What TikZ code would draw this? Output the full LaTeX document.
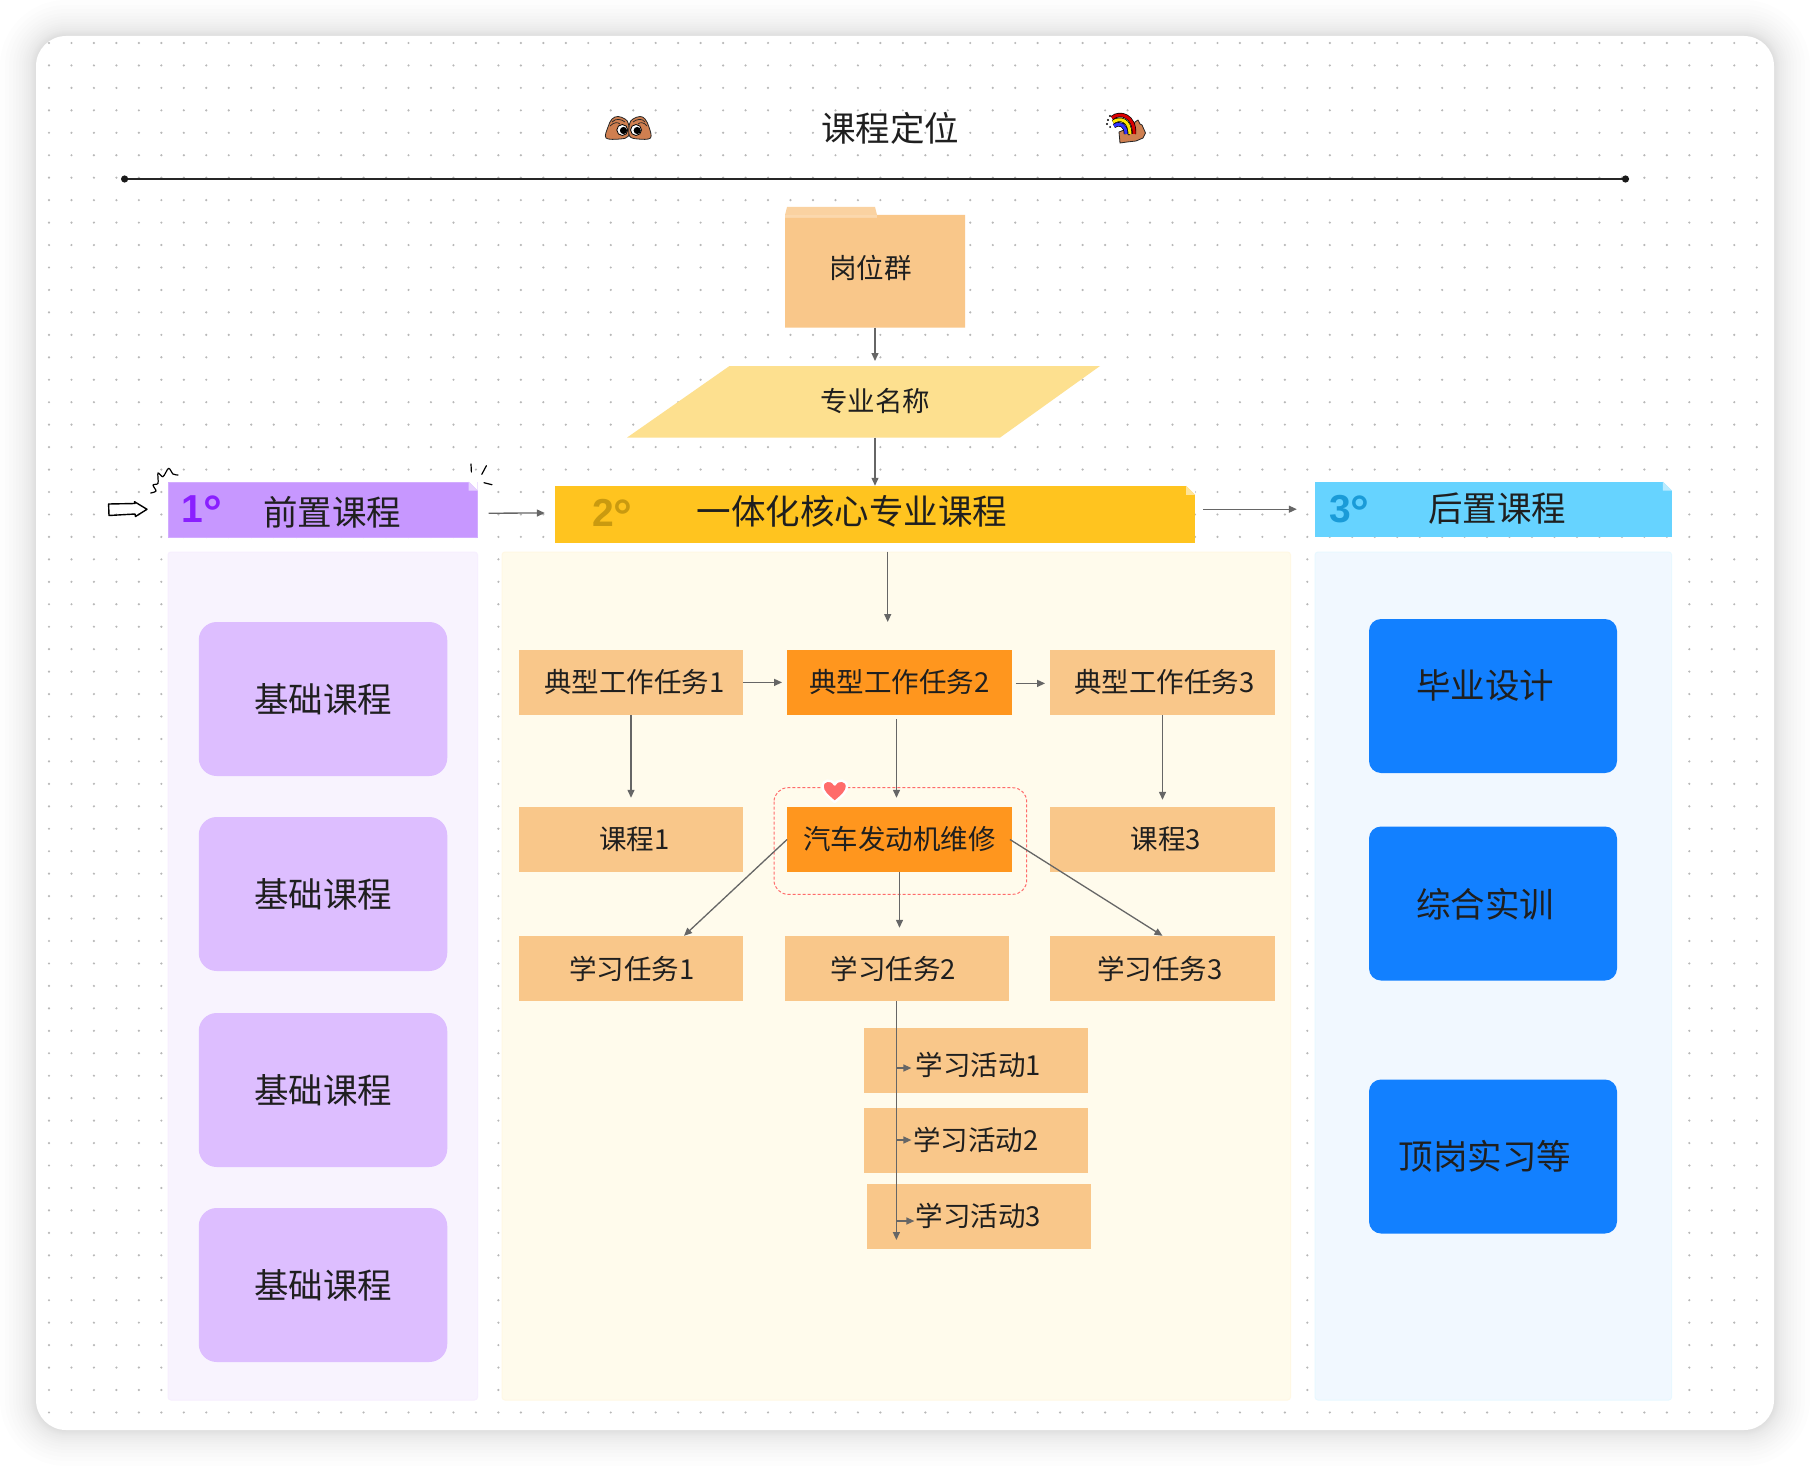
\documentclass[tikz,border=0pt]{standalone}
\usepackage{fontspec}
\setmainfont{Noto Sans CJK SC}
\newfontfamily\numfont{Liberation Sans}
\usepackage{xcolor}
\usetikzlibrary{arrows.meta, positioning}
\definecolor{taskc}{HTML}{F9C78A}
\definecolor{hotc}{HTML}{FF961E}
\definecolor{skinc}{HTML}{CF7F50}
\definecolor{parac}{HTML}{FDE08F}
\definecolor{hdrac}{HTML}{C797FF}
\definecolor{hdrbc}{HTML}{FFC41F}
\definecolor{hdrcc}{HTML}{66D3FF}
\definecolor{numac}{HTML}{8A1FFF}
\definecolor{numbc}{HTML}{C99A10}
\definecolor{numcc}{HTML}{1A9BD8}
\definecolor{panac}{HTML}{F8F3FE}
\definecolor{panbc}{HTML}{FFFBEC}
\definecolor{pancc}{HTML}{F1F8FF}
\definecolor{pboxc}{HTML}{DDBEFF}
\definecolor{bboxc}{HTML}{1280FF}
\definecolor{heartc}{HTML}{FF6B6B}
\newcommand{\foldc}[2]{%
  \fill[white] (#1.north east) -- ++(-9,0) -- ++(9,9) -- cycle;
  \fill[#2] (#1.north east) ++(-9,0) -- ++(9,9) -- ++(-9,0) -- cycle;}
\newcommand{\bigdeg}{{\fontsize{47}{50}\selectfont\raisebox{-5.5pt}{°}}}
\tikzset{
  txtc/.style   = {text=black!88},
  bigt/.style   = {txtc, font=\fontsize{34.5}{40}\selectfont, inner sep=0pt},
  smallt/.style = {txtc, font=\fontsize{27.5}{32}\selectfont, inner sep=0pt},
  task/.style   = {rectangle, fill=taskc, txtc, minimum width=224.5pt, minimum height=65pt,
                   inner sep=0pt, font=\fontsize{27.5}{32}\selectfont},
  hot/.style    = {task, fill=hotc},
  hdr/.style    = {rectangle, minimum width=309.5pt, minimum height=55pt, inner sep=0pt},
  num/.style    = {font=\numfont\bfseries\fontsize{39}{44}\selectfont, inner sep=0pt},
  panel/.style  = {rectangle, rounded corners=3pt, line width=1pt, inner sep=0pt},
  pbox/.style   = {rectangle, rounded corners=18pt, fill=pboxc,
                   minimum width=248.5pt, minimum height=154pt, inner sep=0pt,
                   txtc, font=\fontsize{34.5}{40}\selectfont},
  bbox/.style   = {rectangle, rounded corners=12pt, fill=bboxc,
                   minimum width=248pt, minimum height=154pt, inner sep=0pt},
  fl/.style     = {-{Triangle[length=8pt,width=7pt]}, line width=1.3pt, black!60},
  sk/.style     = {black, line width=1.4pt, line cap=round, line join=round},
  ic/.style     = {draw=black!85, line width=.8pt, fill=skinc, line join=round},
  dotrow/.style = {black!28, line width=2.4pt, line cap=round, dash pattern=on 0pt off 22.47pt},
}
\begin{document}
\begin{tikzpicture}[x=1pt,y=-1pt]
  \useasboundingbox (0,0) rectangle (1810,1466);
  \foreach \s in {36,31,27,23,20,17,14,12,10,8,6,5,4,3,2,1,0} {
    \pgfmathsetmacro{\rad}{30+\s}
    \fill[black, opacity=.0095, rounded corners=\rad pt] ({36-\s},{36-\s}) rectangle ({1774+\s},{1430+\s});
  }
  \fill[white, rounded corners=30pt] (36,36) rectangle (1774,1430);
  \foreach \j in {0,...,61}
    \draw[dotrow] (49,{43+22.45*\j}) -- (1762,{43+22.45*\j});

  % title
  \node[bigt] (title) at (890,128) {课程定位};
  \coordinate (ruleL) at (124.6,179);
  \coordinate (ruleR) at (1625.5,179);
  \draw[black!85, line width=2pt] (ruleL) -- (ruleR);
  \fill[black!90] (ruleL) circle (3.6) (ruleR) circle (3.6);

  % hands with eyes
  \draw[ic] plot[smooth cycle, tension=.6] coordinates {(606,138) (608,127) (612,119) (618,116.5) (625,119) (628.5,124) (628.5,136) (620,139)};
  \draw[ic] plot[smooth cycle, tension=.6] coordinates {(650.5,138) (649,127) (645,119) (640,116.5) (633,119) (629.5,124) (629.5,136) (638,139)};
  \draw[black!85, line width=.7pt] (612,122) .. controls (616,118) and (621,119) .. (625,122)
    (610,126) .. controls (614,122) and (618,122) .. (620,124)
    (645,122) .. controls (642,118) and (637,119) .. (633,122)
    (647,126) .. controls (644,122) and (640,122) .. (638,124);
  \draw[black, fill=white, line width=.8pt] (622.3,130) circle (5.5) (636,130) circle (5.5);
  \fill[black] (623.5,130.5) circle (3.6) (637.2,130.5) circle (3.6);

  % hand with rainbow
  \draw[ic] (1120,143) -- (1119,132) -- (1124,130) -- (1129,135) -- (1132,130) -- (1135,122) -- (1138,120)
    -- (1140,124) -- (1142,125) -- (1145.5,133) -- (1143,138) -- (1136,141) -- (1127,142) -- cycle;
  \draw[black, line width=4.4pt] (1112,118) .. controls (1120,111) and (1135,116) .. (1134,134);
  \draw[black, line width=4.4pt] (1113,122) .. controls (1120,117) and (1130,120) .. (1130,134);
  \draw[black, line width=4.4pt] (1114,126) .. controls (1120,122) and (1126,125) .. (1126,134);
  \draw[red!85!black, line width=3pt] (1112,118) .. controls (1120,111) and (1135,116) .. (1134,134);
  \draw[yellow!90!orange, line width=3pt] (1113,122) .. controls (1120,117) and (1130,120) .. (1130,134);
  \draw[blue!80!white, line width=3pt] (1114,126) .. controls (1120,122) and (1126,125) .. (1126,134);
  \fill[black] (1108,120) circle (1.1) (1107,124) circle (1.1) (1110,116) circle (1.1) (1110,127) circle (1);

  % top of the chart
  \fill[taskc!80!white] (785,215) -- (787,207) -- (875,207) -- (877,215) -- cycle;
  \fill[taskc!70!white] (785,215) rectangle (877,218);
  \fill[taskc] (785,218) rectangle (965,327.7) (877,215) rectangle (965,218);
  \node[task, minimum width=180pt, minimum height=112pt, fill=none] (grp) at (875,271.5) {};
  \node[smallt] (grpt) at (870.5,268) {岗位群};
  \fill[parac] (729.5,366) -- (1100,366) -- (1000,437.6) -- (627,437.6) -- cycle;
  \node[smallt] (maj) at (875,401) {专业名称};
  \coordinate (majS) at (875,437.6);
  \coordinate (majN) at (875,361);
  \draw[fl] (grp.south) -- (majN);

  % headers
  \node[hdr, fill=hdrac, draw=hdrac!80!white] (hdra) at (322.75,509.2) {};
  \node[hdr, minimum width=640pt, minimum height=56.7pt, fill=hdrbc] (hdrb) at (875,514.3) {};
  \node[hdr, minimum width=356.6pt, fill=hdrcc] (hdrc) at (1493.3,509.2) {};
  \foldc{hdra}{hdrac!45!white}
  \foldc{hdrb}{hdrbc!45!white}
  \foldc{hdrc}{hdrcc!45!white}
  \node[bigt] (hdrat) at (332,512.7) {前置课程};
  \node[bigt] (hdrbt) at (852,511) {一体化核心专业课程};
  \node[bigt] (hdrct) at (1497,509) {后置课程};
  \node[num, text=numac] (numa) at (202,512) {1\bigdeg};
  \node[num, text=numbc] (numb) at (612.5,516) {2\bigdeg};
  \node[num, text=numcc] (numc) at (1349.5,512) {3\bigdeg};
  \draw[fl] (majS) -- (hdrb.north -| majS);
  \draw[fl] ([xshift=11pt,yshift=-4pt]hdra.east) -- ([xshift=-10pt,yshift=1.3pt]hdrb.west);
  \draw[fl] ([xshift=8pt,yshift=5.1pt]hdrb.east) -- ([xshift=-18pt]hdrc.west);

  % panels
  \node[panel, fill=panac, draw=hdrac!15!white, minimum width=309.5pt, minimum height=848pt] (pana) at (322.75,976) {};
  \node[panel, fill=panbc, draw=hdrbc!12!white, minimum width=788.5pt, minimum height=848pt] (panb) at (896.25,976) {};
  \node[panel, fill=pancc, draw=hdrcc!15!white, minimum width=356.6pt, minimum height=848pt] (panc) at (1493.3,976) {};

  % left column
  \node[pbox] (basea) at (323,699) {基础课程};
  \node[pbox] (baseb) at (323,894) {基础课程};
  \node[pbox] (basec) at (323,1090) {基础课程};
  \node[pbox] (based) at (323,1285) {基础课程};

  % right column
  \node[bbox] (posta) at (1493,696) {};
  \node[bbox] (postb) at (1493,903.5) {};
  \node[bbox] (postc) at (1493,1156.5) {};
  \node[bigt] (postat) at (1485,685.6) {毕业设计};
  \node[bigt] (postbt) at (1485,904) {综合实训};
  \node[bigt] (postct) at (1485,1156.7) {顶岗实习等};

  % middle column
  \draw[heartc, densely dashed, line width=1pt, rounded corners=14pt] (774,787.7) rectangle (1026.7,894.3);
  \node[task] (ta) at (631,682.4) {\hspace*{7pt}典型工作任务1};
  \node[hot, right=43.6pt of ta] (tb) {典型工作任务2};
  \node[task, right=38.1pt of tb] (tc) {\hspace*{4pt}典型工作任务3};
  \node[task] (ca) at (631,839.5) {\hspace*{7pt}课程1};
  \node[hot] (cb) at (tb |- ca) {汽车发动机维修};
  \node[task] (cc) at (tc |- ca) {\hspace*{7pt}课程3};
  \node[task] (la) at (631,968.5) {\hspace*{2pt}学习任务1};
  \node[task] (lb) at (897,968.5) {学习任务2\hspace*{7pt}};
  \node[task] (lc) at (tc |- la) {学习任务3\hspace*{5pt}};
  \node[task] (acta) at (976,1060.3) {};
  \node[task] (actb) at (976,1140.3) {};
  \node[task] (actc) at (978.8,1216.3) {};
  \node[smallt] (actat) at (978.6,1064.5) {学习活动1};
  \node[smallt] (actbt) at (976,1140) {学习活动2};
  \node[smallt] (actct) at (978.6,1216) {学习活动3};

  \coordinate (enter) at (887.7,622);
  \coordinate (stem) at (896.4,1240);
  \coordinate (joina) at (896.4,1068);
  \coordinate (joinb) at (896.4,1140);
  \coordinate (joinc) at (896.4,1221);
  \draw[fl] (panb.north -| enter) -- (enter);
  \draw[fl] (ta.east) -- ([xshift=-5pt]tb.west);
  \draw[fl] ([xshift=4pt,yshift=-1pt]tb.east) -- ([xshift=-5pt,yshift=-1pt]tc.west);
  \draw[fl] (ta.south) -- ([yshift=9pt]ca.north);
  \draw[fl] ([xshift=-3pt,yshift=-4pt]tb.south) -- ([xshift=-3pt,yshift=9pt]cb.north);
  \draw[fl] (tc.south) -- ([yshift=7pt]cc.north);
  \draw[fl] (cb.west) -- ([xshift=53pt]la.north);
  \draw[fl] (cb.south) -- ([yshift=8pt]cb.south |- lb.north);
  \draw[fl] ([xshift=-2pt]cb.east) -- (lc.north);
  \draw[fl] (lb.south -| stem) -- (stem);
  \draw[fl] (joina) -- ++(15,0);
  \draw[fl] (joinb) -- ++(15,0);
  \draw[fl] (joinc) -- ++(18,0);

  % heart
  \draw[white, line width=2.4pt, fill=heartc, line join=round]
    (834.7,802) .. controls (827,795.5) and (822.5,791.5) .. (822.5,786.5)
    .. controls (822.5,779.5) and (831.5,778.5) .. (834.7,784.5)
    .. controls (838,778.5) and (847,779.5) .. (847,786.5)
    .. controls (847,791.5) and (842.5,795.5) .. (834.7,802) -- cycle;

  % sketches
  \draw[sk] (108.6,504) -- (135,503.5) -- (134.5,501.7) -- (147,509.3) -- (135.5,516.5) -- (135,514) -- (109,515.5) -- cycle;
  \draw[sk, line width=1.2pt] plot[smooth, tension=.5] coordinates {(150.7,493) (156,491) (153,485) (158,483.3) (158,473) (163,476.7) (168.6,468.3) (173,474) (178,475)};
  \coordinate (spa) at (471,464);
  \draw[sk, line width=1.2pt] (spa) -- ++(.4,8) (486.4,465.7) -- (481.8,474.3) (484,482.7) -- (492,484.7);
\end{tikzpicture}
\end{document}
